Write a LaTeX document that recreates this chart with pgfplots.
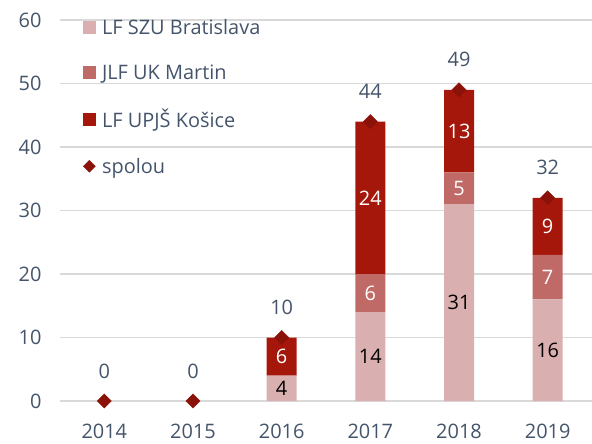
\documentclass[border=0pt]{standalone}
\usepackage{fontspec}
\setmainfont{Open Sans}
\usepackage{pgfplots}
\usepackage{pgfplotstable}
\pgfplotsset{compat=1.18}
\definecolor{cLight}{HTML}{D9AFAF}
\definecolor{cMed}{HTML}{C06A67}
\definecolor{cDark}{HTML}{A6170B}
\definecolor{cDia}{HTML}{8B1208}
\definecolor{cTxt}{HTML}{44546A}
\definecolor{cGrid}{HTML}{D9D9D9}

\pgfplotstableread{
x y
0 0
1 0
2 4
3 14
4 31
5 16
}\szu
\pgfplotstableread{
x y
0 0
1 0
2 0
3 6
4 5
5 7
}\jlf
\pgfplotstableread{
x y
0 0
1 0
2 6
3 24
4 13
5 9
}\upjs
\pgfplotstableread{
x y
0 0
1 0
2 10
3 44
4 49
5 32
}\spolu
% label positions (segment centres)
\pgfplotstableread{
x y lab
2 2 4
3 7 14
4 15.5 31
5 8 16
}\labA
\pgfplotstableread{
x y lab
3 17 6
4 33.5 5
5 19.5 7
}\labB
\pgfplotstableread{
x y lab
2 7 6
3 32 24
4 42.5 13
5 27.5 9
}\labC

\pgfplotsset{
  common/.style={
    scale only axis, width=532bp, height=381bp,
    xmin=-0.5, xmax=5.5, ymin=0, ymax=60,
    font=\fontsize{20}{23}\selectfont,
  },
}

\begin{document}
\begin{tikzpicture}
\begin{axis}[common,
  ybar stacked, bar width=30bp,
  ytick={0,10,...,60},
  xtick={0,...,5},
  xticklabels={2014,2015,2016,2017,2018,2019},
  ymajorgrids, grid style={cGrid, line width=1.5bp},
  axis line style={draw=none},
  tick style={draw=none},
  ticklabel style={text=cTxt, font=\fontsize{20}{23}\selectfont},
  /pgf/number format/assume math mode=true,
  yticklabel style={xshift=-15bp},
  xticklabel style={yshift=-20bp},
  legend style={draw=none, fill=none, at={(0.037,1.012)}, anchor=north west,
    font=\fontsize{20}{23}\selectfont, text=cTxt, row sep=24.5bp,
    legend cell align=left},
  legend image code/.code={\fill[#1] (0bp,-6.5bp) rectangle (13bp,6.5bp); \path (17bp,0bp);},
]
\addplot[fill=cLight, draw=none] table[x=x,y=y] {\szu};
\addlegendentry{LF SZU Bratislava}
\addplot[fill=cMed, draw=none] table[x=x,y=y] {\jlf};
\addlegendentry{JLF UK Martin}
\addplot[fill=cDark, draw=none] table[x=x,y=y] {\upjs};
\addlegendentry{LF UPJŠ Košice}
\addlegendimage{legend image code/.code={\fill[cDia] (6.5bp,-6bp) -- (12.5bp,0bp) -- (6.5bp,6bp) -- (0.5bp,0bp) -- cycle; \path (17bp,0bp);}}
\addlegendentry{spolou}
\end{axis}
\begin{axis}[common, hide axis]
\addplot[draw=none, mark=none, nodes near coords, point meta=explicit symbolic,
  every node near coord/.style={anchor=center, text=black}]
  table[x=x,y=y,meta=lab] {\labA};
\addplot[draw=none, mark=none, nodes near coords, point meta=explicit symbolic,
  every node near coord/.style={anchor=center, text=white}]
  table[x=x,y=y,meta=lab] {\labB};
\addplot[draw=none, mark=none, nodes near coords, point meta=explicit symbolic,
  every node near coord/.style={anchor=center, text=white}]
  table[x=x,y=y,meta=lab] {\labC};
\addplot[only marks, mark=square*, mark size=5bp, mark options={rotate=45, fill=cDia, draw=cDia},
  nodes near coords, point meta=explicit symbolic,
  every node near coord/.style={anchor=center, yshift=30bp, text=cTxt}]
  table[x=x,y=y,meta=y] {\spolu};
\end{axis}
\pgfresetboundingbox
\path ([shift={(-60bp,-43bp)}]current axis.south west) rectangle ([shift={(0bp,20bp)}]current axis.north east);
\end{tikzpicture}
\end{document}
